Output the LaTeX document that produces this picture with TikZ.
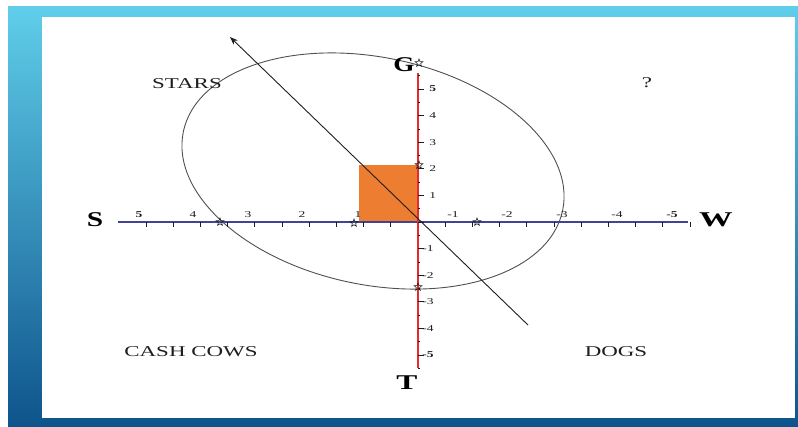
\documentclass[tikz,border=0pt]{standalone}
\usepackage{fontspec}
\setmainfont{Liberation Serif}
\usetikzlibrary{arrows.meta,shapes.geometric}
\definecolor{frametop}{RGB}{96,206,234}
\definecolor{framebot}{RGB}{14,84,140}
\definecolor{axisblue}{RGB}{66,66,150}
\definecolor{axisred}{RGB}{230,42,45}
\definecolor{boxorange}{RGB}{237,125,49}
\definecolor{curvegray}{RGB}{80,80,80}
\definecolor{inkgray}{RGB}{30,30,30}
\tikzset{
  quadlab/.style={font=\fontsize{15}{15}\selectfont, xscale=1.53, inner sep=0pt, text=inkgray},
  dirlab/.style={font=\bfseries\fontsize{21}{21}\selectfont, inner sep=0pt, text=black},
  ticklab/.style={font=\fontsize{9}{9}\selectfont, xscale=1.5, inner sep=0pt, text=inkgray},
  boldtick/.style={ticklab, font=\bfseries\fontsize{9}{9}\selectfont},
  starmark/.style={star, star points=5, star point ratio=2.3, minimum size=8pt, inner sep=0pt, draw=inkgray, line width=0.6pt},
  tickline/.style={inkgray, line width=0.7pt},
}
\begin{document}
\begin{tikzpicture}[x=1pt,y=-1pt]
\useasboundingbox (0,0) rectangle (798,426);
\fill[white] (0,0) rectangle (798,426);
\shade[top color=frametop,bottom color=framebot] (8,6) rectangle (798,426);
\fill[white] (42,17) rectangle (795,418);

% orange box
\fill[boxorange] (359,165) rectangle (418,222);

% ellipse
\draw[curvegray, line width=0.9pt, rotate around={-11.7:(373,171)}] (373,171) ellipse [x radius=193.7pt, y radius=113.7pt];

% axes
\coordinate (hL) at (118,222);
\coordinate (hR) at (688,222);
\coordinate (vT) at (418,73);
\coordinate (vB) at (418,368);
\draw[axisblue, line width=1.5pt] (hL) -- (hR);
\foreach \k in {1,...,10} {
  \draw[tickline] ({418-27.2*\k},222) -- ++(0,5);
  \draw[tickline] ({418+27.2*\k},222) -- ++(0,5);
}
\draw[axisred, line width=2pt] (vT) -- (vB);
\foreach \k in {-5,...,5} {
  \draw[tickline] (418,{222-26.6*\k}) -- ++(6,0);
}
\foreach \k in {-11,-9,...,11} {
  \draw[tickline] (418,{222-13.3*\k}) -- ++(2,0);
}

% horizontal tick labels
\foreach \v/\x in {4/193,3/248,2/302,1/358} {
  \node[ticklab] (hp\v) at (\x,215) {\v};
}
\node[boldtick] (hp5) at (139,215) {5};
\foreach \v/\x in {1/453,2/507,3/562,4/617} {
  \node[ticklab] (hn\v) at (\x,215) {-\v};
}
\node[boldtick] (hn5) at (672,215) {-5};

% vertical tick labels
\foreach \v in {1,2,3,4} {
  \node[ticklab, anchor=west] (vp\v) at (429,{222-26.6*\v}) {\v};
  \node[ticklab, anchor=west] (vn\v) at (422,{222+26.6*\v}) {-\v};
}
\node[boldtick, anchor=west] (vp5) at (429,{222-26.6*5}) {5};
\node[boldtick, anchor=west] (vn5) at (422,{222+26.6*5}) {-5};

% star markers
\node[starmark] (s1) at (220,222) {};
\node[starmark] (s2) at (354,223) {};
\node[starmark] (s3) at (477,222) {};
\node[starmark] (s4) at (418,287) {};
\node[starmark] (s5) at (419,165) {};

% direction letters
\node[dirlab, xscale=1.4] (S) at (95,220) {S};
\node[dirlab, xscale=1.6] (W) at (716,220) {W};
\node[dirlab, xscale=1.3] (G) at (404,65) {G};
\node[starmark] (s6) at (419,63) {};
\node[dirlab, xscale=1.5] (T) at (407,383) {T};

% diagonal arrow
\coordinate (dA) at (528,325);
\coordinate (dB) at (230,37);
\draw[-{Stealth[length=8pt,width=6pt]}, line width=0.9pt, inkgray] (dA) -- (dB);

% quadrant labels
\node[quadlab] (stars) at (187,84) {STARS};
\node[quadlab] (q) at (647,83) {?};
\node[quadlab] (cows) at (191,352) {CASH COWS};
\node[quadlab] (dogs) at (616,352) {DOGS};
\end{tikzpicture}
\end{document}
